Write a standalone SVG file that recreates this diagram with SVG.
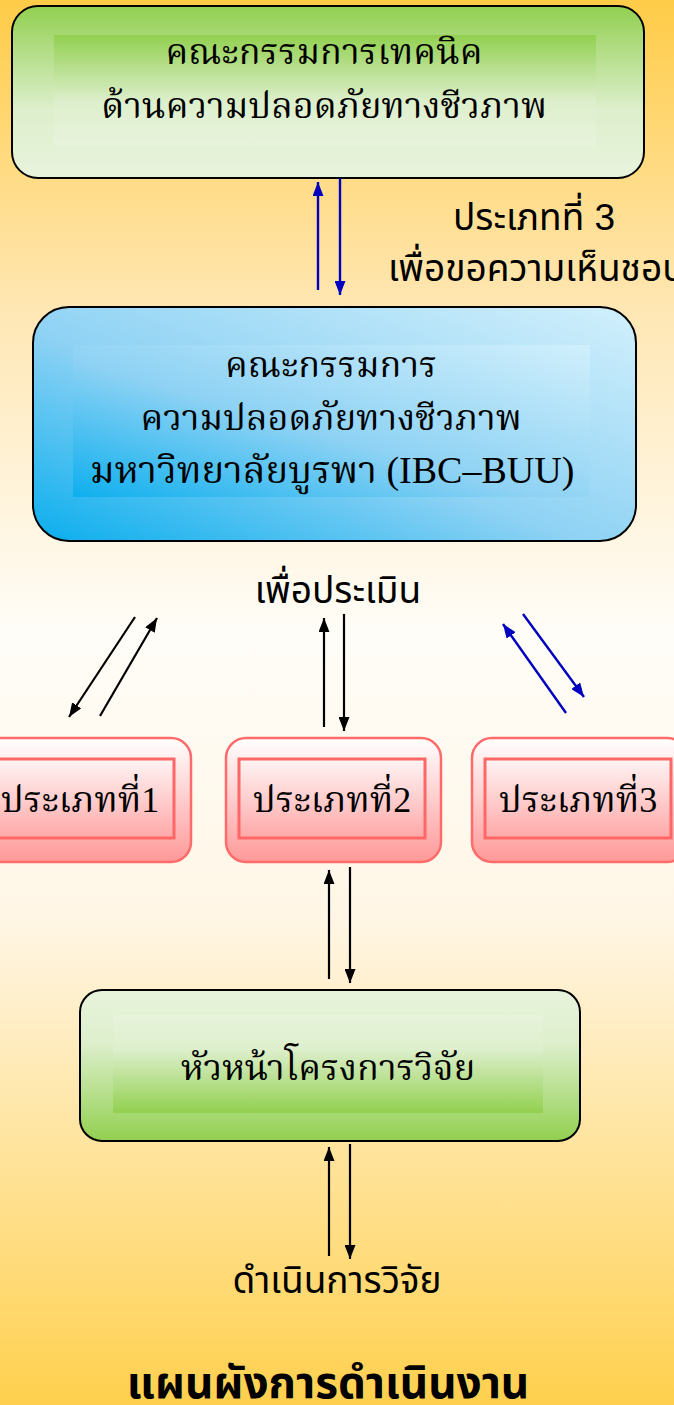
<svg xmlns="http://www.w3.org/2000/svg" width="674" height="1405" viewBox="0 0 674 1405">
<defs>
<linearGradient id="bg" x1="0" y1="0" x2="0" y2="1">
<stop offset="0" stop-color="#FFCC48"/>
<stop offset="0.22" stop-color="#FFE7B4"/>
<stop offset="0.45" stop-color="#FFFDF8"/>
<stop offset="0.65" stop-color="#FFF6E6"/>
<stop offset="1" stop-color="#FFD04E"/>
</linearGradient>
<linearGradient id="gTop" x1="0" y1="0" x2="0" y2="1">
<stop offset="0" stop-color="#92D050"/>
<stop offset="0.6" stop-color="#DDEFCC"/>
<stop offset="1" stop-color="#E8F3DC"/>
</linearGradient>
<linearGradient id="gBot" x1="0" y1="0" x2="0" y2="1">
<stop offset="0" stop-color="#E8F3DC"/>
<stop offset="0.35" stop-color="#DDEFCC"/>
<stop offset="1" stop-color="#92D050"/>
</linearGradient>
<linearGradient id="gBlue" x1="1" y1="0" x2="0" y2="1">
<stop offset="0" stop-color="#D2F0FC"/>
<stop offset="0.55" stop-color="#8ED2F4"/>
<stop offset="1" stop-color="#0AAEEE"/>
</linearGradient>
<linearGradient id="gPink" x1="0" y1="0" x2="0" y2="1">
<stop offset="0" stop-color="#FFFFFF"/>
<stop offset="1" stop-color="#FF9999"/>
</linearGradient>
<linearGradient id="gPinkIn" x1="0" y1="0" x2="0" y2="1">
<stop offset="0" stop-color="#FFF4F4"/>
<stop offset="1" stop-color="#FFA8A8"/>
</linearGradient>
<marker id="ahK" viewBox="0 0 14 11" refX="14" refY="5.5" markerWidth="14" markerHeight="11" markerUnits="userSpaceOnUse" orient="auto">
<path d="M0,0 L14,5.5 L0,11 z" fill="#000"/>
</marker>
<marker id="ahB" viewBox="0 0 14 11" refX="14" refY="5.5" markerWidth="14" markerHeight="11" markerUnits="userSpaceOnUse" orient="auto">
<path d="M0,0 L14,5.5 L0,11 z" fill="#0000C0"/>
</marker>
<style>
.box{stroke:#000;stroke-width:2}
.pink{fill:url(#gPink);stroke:#FF6B6B;stroke-width:2.5}
.pinkin{fill:url(#gPinkIn);stroke:#FF6666;stroke-width:3}
.bt{font-family:"Liberation Serif","Noto Serif Thai","Noto Sans Thai",serif;font-size:36px;fill:#000;text-anchor:middle}
.lt{font-family:"Liberation Sans","Noto Sans Thai",sans-serif;font-size:37px;fill:#000;text-anchor:middle}
.k{stroke:#000;stroke-width:2.2;fill:none}
.b{stroke:#0000C0;stroke-width:2.4;fill:none}
</style>
</defs>
<rect x="0" y="0" width="674" height="1405" fill="url(#bg)"/>

<g id="node-technical">
<rect class="box" x="12" y="6" width="632" height="172" rx="26" fill="url(#gTop)"/>
<rect x="54" y="35" width="542" height="111" fill="url(#gTop)"/>
<text class="bt" x="324" y="64">คณะกรรมการเทคนิค</text>
<text class="bt" x="324" y="118">ด้านความปลอดภัยทางชีวภาพ</text>
</g>

<g id="node-ibc">
<rect class="box" x="33" y="307" width="603" height="234" rx="36" fill="url(#gBlue)"/>
<rect x="73" y="345" width="517" height="152" fill="url(#gBlue)" opacity="0.9"/>
<text class="bt" x="331" y="377">คณะกรรมการ</text>
<text class="bt" x="331" y="430">ความปลอดภัยทางชีวภาพ</text>
<text class="bt" x="332" y="483" style="font-size:38px">มหาวิทยาลัยบูรพา (IBC–BUU)</text>
</g>

<g id="node-type1">
<rect class="pink" x="-24" y="738" width="215" height="124" rx="20"/>
<rect class="pinkin" x="-11" y="759" width="185" height="79"/>
<text class="bt" x="80" y="812">ประเภทที่1</text>
</g>
<g id="node-type2">
<rect class="pink" x="226" y="738" width="215" height="124" rx="20"/>
<rect class="pinkin" x="239" y="759" width="186" height="79"/>
<text class="bt" x="332" y="812">ประเภทที่2</text>
</g>
<g id="node-type3">
<rect class="pink" x="472" y="738" width="215" height="124" rx="20"/>
<rect class="pinkin" x="485" y="759" width="186" height="79"/>
<text class="bt" x="578" y="812">ประเภทที่3</text>
</g>

<g id="node-pi">
<rect class="box" x="80" y="990" width="500" height="151" rx="22" fill="url(#gBot)"/>
<rect x="113" y="1015" width="430" height="98" fill="url(#gBot)"/>
<text class="bt" x="328" y="1080">หัวหน้าโครงการวิจัย</text>
</g>

<g id="connectors">
<line class="b" x1="318" y1="290" x2="318" y2="182" marker-end="url(#ahB)"/>
<line class="b" x1="340" y1="178" x2="340" y2="295" marker-end="url(#ahB)"/>
<line class="k" x1="135" y1="617" x2="69" y2="717" marker-end="url(#ahK)"/>
<line class="k" x1="100" y1="716" x2="157" y2="618" marker-end="url(#ahK)"/>
<line class="k" x1="324" y1="727" x2="324" y2="618" marker-end="url(#ahK)"/>
<line class="k" x1="344" y1="614" x2="344" y2="731" marker-end="url(#ahK)"/>
<line class="b" x1="566" y1="713" x2="503" y2="624" marker-end="url(#ahB)"/>
<line class="b" x1="523" y1="614" x2="584" y2="697" marker-end="url(#ahB)"/>
<line class="k" x1="329" y1="979" x2="329" y2="870" marker-end="url(#ahK)"/>
<line class="k" x1="350" y1="867" x2="350" y2="983" marker-end="url(#ahK)"/>
<line class="k" x1="329" y1="1256" x2="329" y2="1147" marker-end="url(#ahK)"/>
<line class="k" x1="350" y1="1144" x2="350" y2="1259" marker-end="url(#ahK)"/>
</g>

<g id="labels">
<text class="lt" x="534" y="230">ประเภทที่ 3</text>
<text class="lt" x="388" y="281" style="text-anchor:start">เพื่อขอความเห็นชอบ</text>
<text class="lt" x="338" y="603">เพื่อประเมิน</text>
<text class="lt" x="337" y="1293">ดำเนินการวิจัย</text>
<text class="lt" x="328" y="1398" style="font-size:44px;font-weight:bold">แผนผังการดำเนินงาน</text>
</g>
</svg>
